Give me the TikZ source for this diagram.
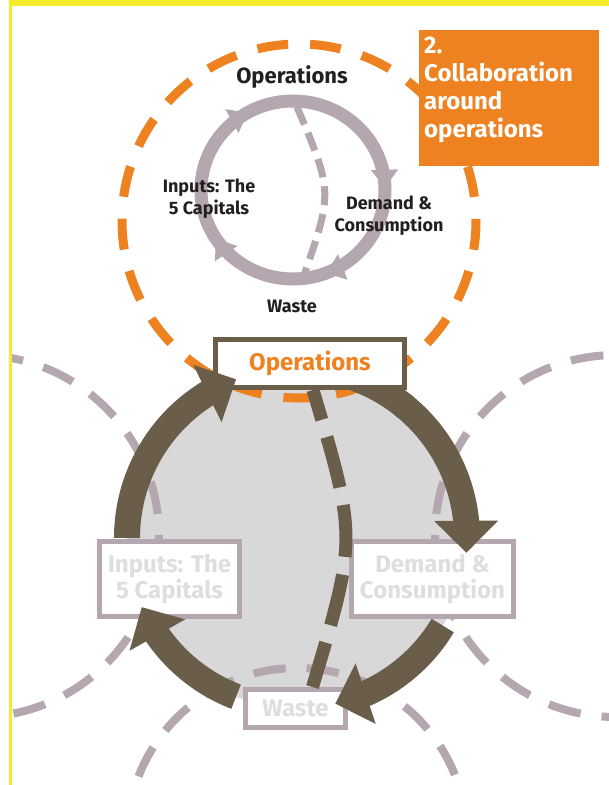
\documentclass[tikz,border=0pt]{standalone}
\usepackage{fontspec}
\setmainfont{Fira Sans}
\usetikzlibrary{arrows.meta,bending,decorations.markings}
\definecolor{ochre}{RGB}{238,130,33}
\definecolor{mauve}{RGB}{180,167,176}
\definecolor{umber}{RGB}{106,94,74}
\definecolor{fog}{RGB}{216,216,216}
\definecolor{pale}{RGB}{222,222,222}
\definecolor{ink}{RGB}{35,31,32}
\definecolor{lemon}{RGB}{245,236,40}
\newcommand{\boxfont}{\fontsize{24}{26}\selectfont\bfseries}
\newcommand{\ringfont}{\fontsize{18}{22}\selectfont\bfseries}
\newcommand{\smalltip}{\arrowreversed{Triangle[width=26pt,length=18pt,color=mauve]}}

\begin{document}
\begin{tikzpicture}[x=1pt,y=1pt,
  halo/.style={mauve,line width=8pt},
  stagebox/.style={draw=mauve,line width=5pt,fill=white,inner sep=0pt,
    align=center,text=pale,font=\boxfont},
  bigarrow/.style={umber,line width=26pt,-{Triangle[width=62pt,length=32pt]}},
  ringlabel/.style={text=ink,font=\ringfont,align=center,inner sep=0pt}]
  \useasboundingbox (0,0) rectangle (609,-785);
  \fill[white] (0,0) rectangle (609,-785);
  \begin{scope}
    \clip (12,-6) rectangle (609,-785);
    \coordinate (ring) at (297,-538);
    \fill[fog] (ring) circle(170);
    \draw[halo,dash pattern=on 33pt off 21.16pt,dash phase=32pt] (-22,-536) circle(181);
    \draw[halo,dash pattern=on 33pt off 21.16pt,dash phase=28pt] (616,-536) circle(181);
    \draw[halo,dash pattern=on 32.5pt off 20.9pt,dash phase=42pt] (297,-838) circle(170);
    \draw[ochre,line width=9pt,dash pattern=on 31pt off 21.96pt,dash phase=28.8pt] (299,-221) circle(177);
  \end{scope}

  \node[fill=ochre,minimum width=180pt,minimum height=136pt,anchor=north west,inner sep=0pt] (tag) at (419,-30) {};
  \node[anchor=north west,text=white,font=\fontsize{24}{28}\selectfont\bfseries,align=left,inner sep=0pt]
    (tagtext) at (424,-36.5) {2.\\Collaboration\\around\\operations};

  \coordinate (hub) at (293,-190);
  \coordinate (hubtop) at (297,-107);
  \coordinate (hubbot) at (303,-278);
  \draw[mauve,line width=7pt,dash pattern=on 19pt off 9pt] (hubtop) .. controls (333,-192) .. (hubbot);
  \draw[mauve,line width=13pt,postaction={decorate},
    decoration={markings,
      mark=at position 0.004 with {\smalltip},
      mark=at position 0.333 with {\smalltip},
      mark=at position 0.591 with {\smalltip},
      mark=at position 0.809 with {\smalltip}}]
    (hub) ellipse[x radius=92,y radius=89];
  \node[ringlabel,font=\fontsize{22}{26}\selectfont\bfseries,anchor=base] (topops) at (292,-83) {Operations};
  \node[ringlabel] (topinp) at (209,-199) {Inputs: The\\5 Capitals};
  \node[ringlabel] (topdem) at (389,-216) {Demand \&\\Consumption};
  \node[ringlabel,anchor=base] (topwaste) at (292,-312) {Waste};

  \draw[umber,line width=26pt] (ring) ++(72:170) arc[start angle=72,end angle=50,radius=170];
  \node[stagebox,draw=umber,text=ochre,minimum width=189pt,minimum height=48pt] (ops) at (310,-363.5) {Operations};
  \node[stagebox,minimum width=140pt,minimum height=75pt] (inp) at (169.5,-579) {Inputs: The\\5 Capitals};
  \node[stagebox,minimum width=162pt,minimum height=75pt] (dem) at (432.5,-579) {Demand \&\\Consumption};
  \node[stagebox,minimum width=100pt,minimum height=38pt] (waste) at (295.5,-708.5) {Waste};
  \draw[umber,line width=13pt,dash pattern=on 52pt off 18pt,dash phase=21pt]
    ([xshift=3pt]ops.south) .. controls (357,-538) .. ([xshift=17pt]waste.north);
  \foreach \s/\e/\n in {180/111/inp,52/-5/ops,-31/-77/dem,-111/-156/waste}
    \draw[bigarrow] (ring) ++(\s:170) coordinate (\n-out) arc[start angle=\s,end angle=\e,radius=170];

  \fill[lemon] (9,0) rectangle (609,-6);
  \fill[lemon] (9,0) rectangle (12,-785);
\end{tikzpicture}
\end{document}
